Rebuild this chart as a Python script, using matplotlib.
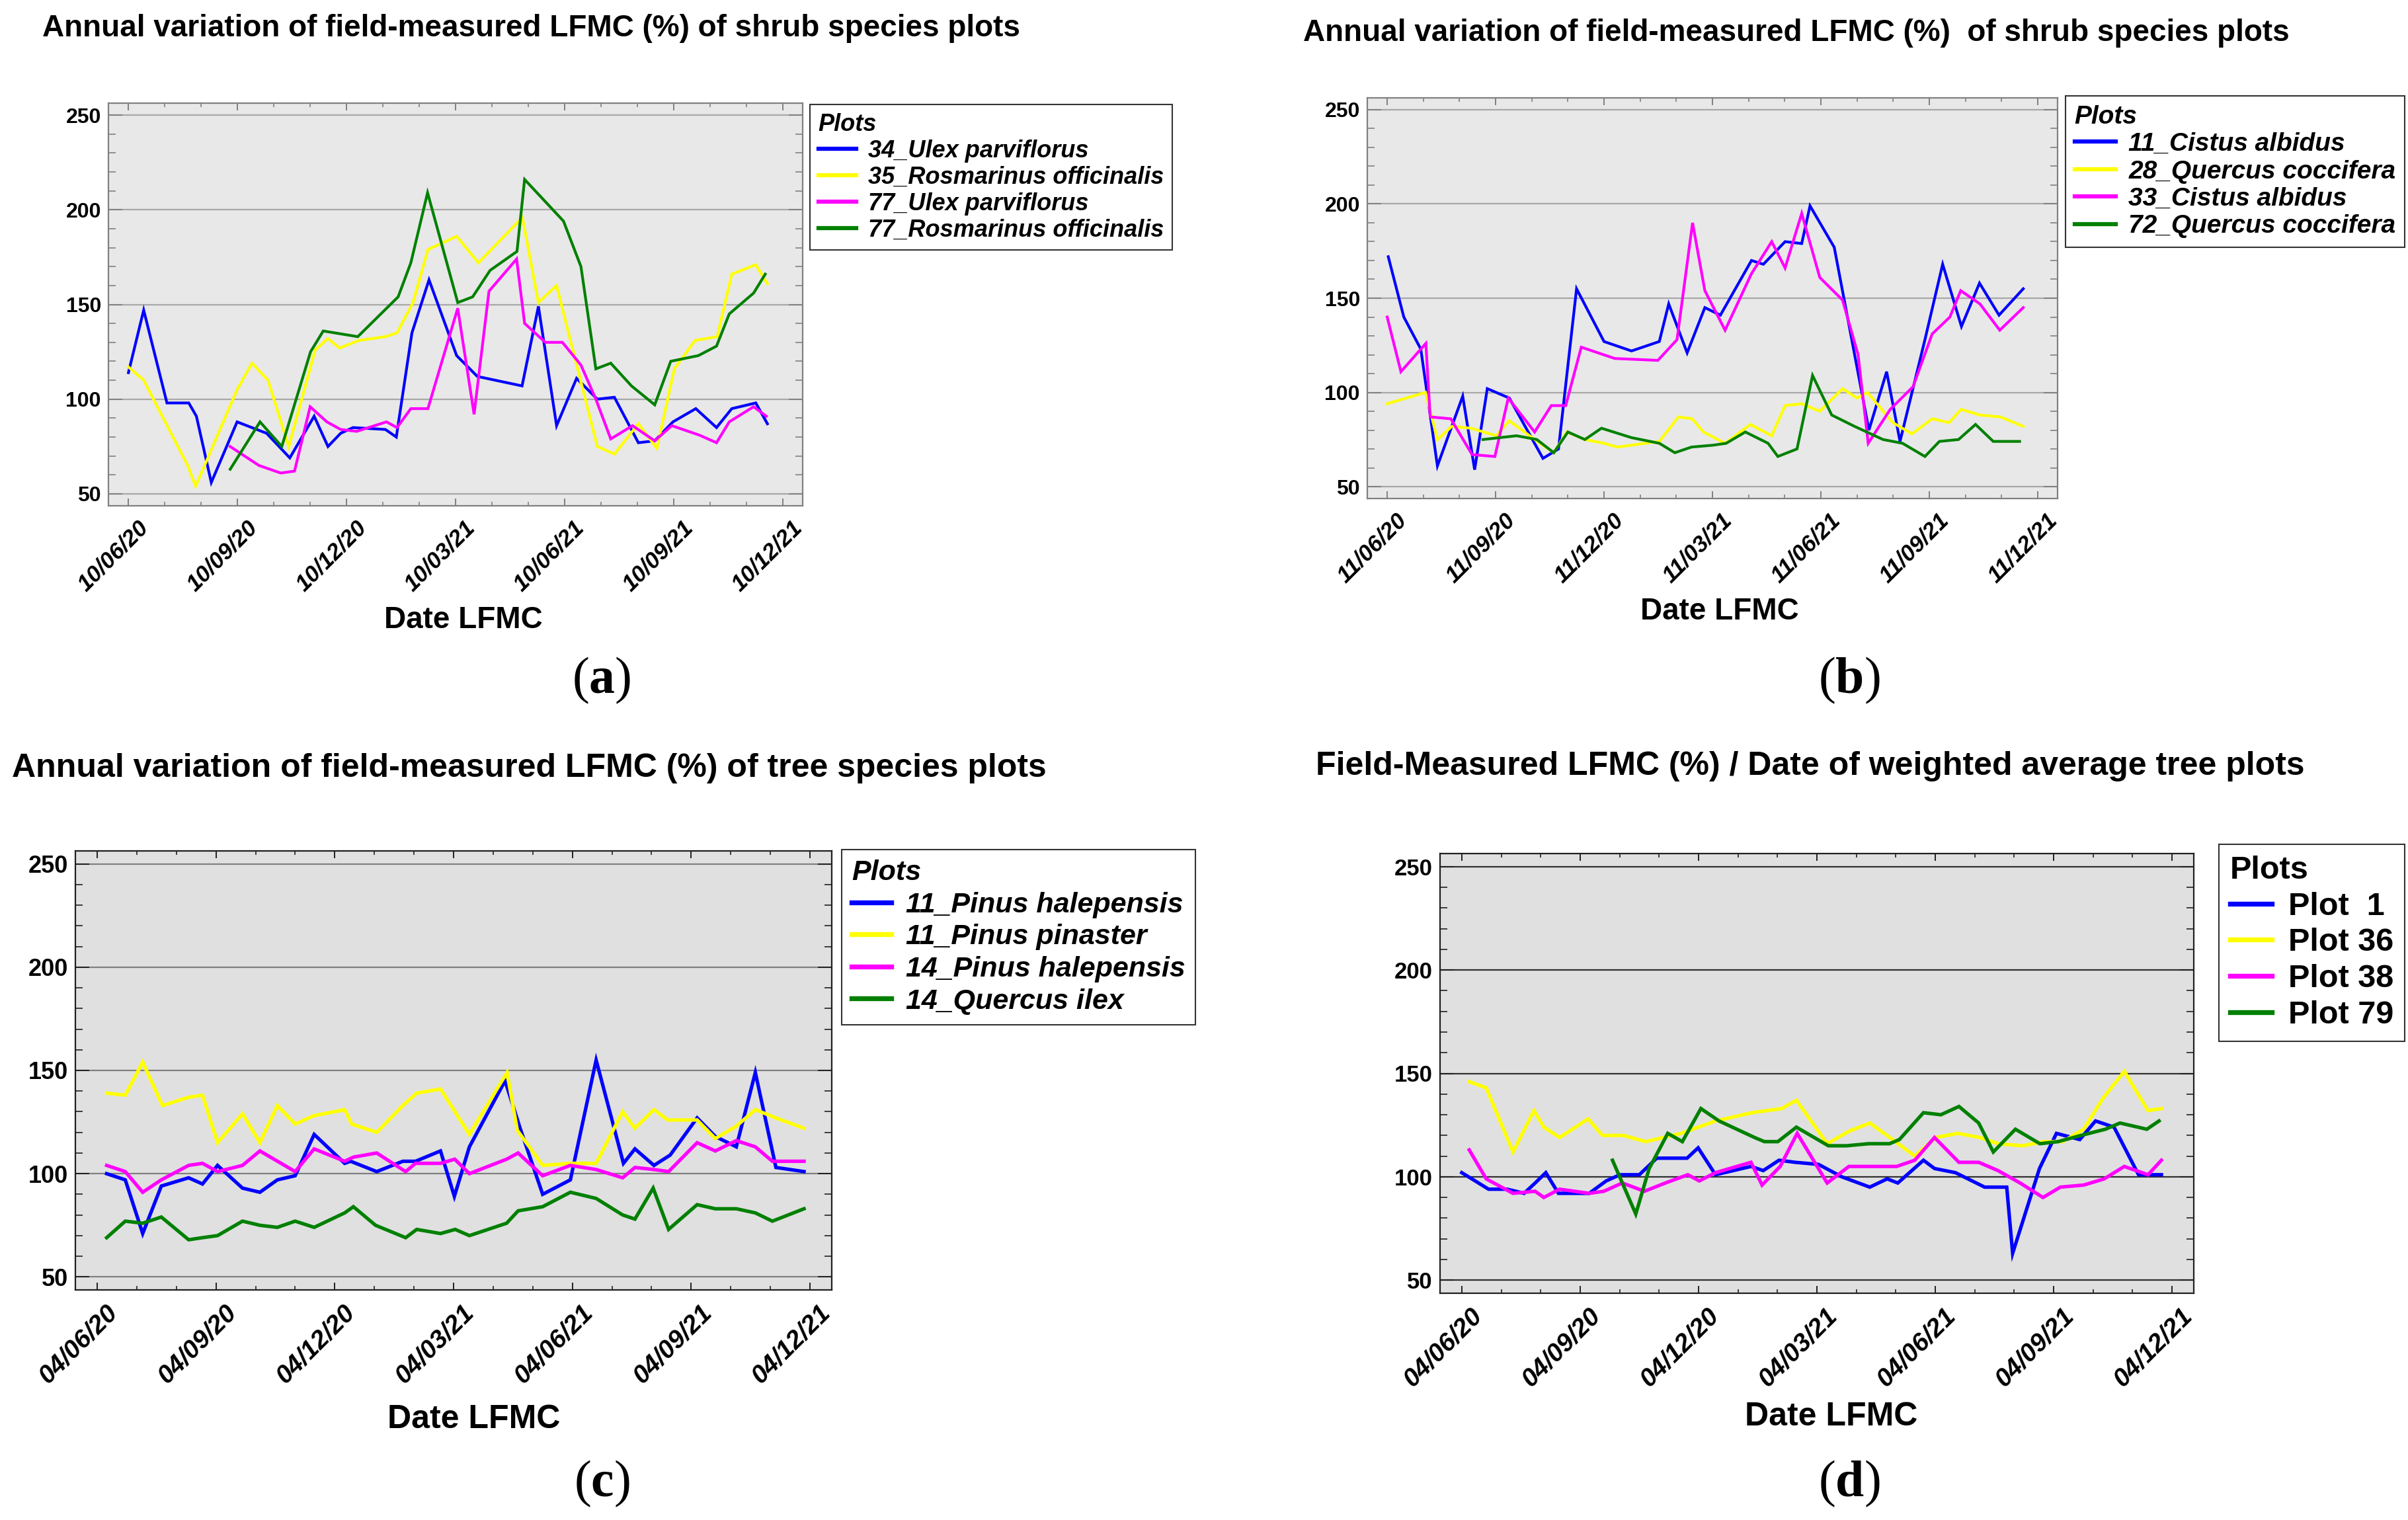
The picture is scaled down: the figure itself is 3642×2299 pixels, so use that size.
import matplotlib
matplotlib.use('Agg')
import matplotlib.pyplot as plt
from matplotlib.ticker import MultipleLocator
from matplotlib.transforms import ScaledTranslation

plt.rcParams['font.family'] = ['Liberation Sans', 'DejaVu Sans']
plt.rcParams['mathtext.fontset'] = 'custom'
plt.rcParams['mathtext.rm'] = 'Liberation Serif'
plt.rcParams['mathtext.bf'] = 'Liberation Serif:bold'

W, H = 3642, 2299

# ---------- data (x = months after the first labelled date) ----------
a_ticks = ['10/06/20', '10/09/20', '10/12/20', '10/03/21', '10/06/21', '10/09/21', '10/12/21']
a_names = ['34_Ulex parviflorus', '35_Rosmarinus officinalis', '77_Ulex parviflorus', '77_Rosmarinus officinalis']
a_blue_x = [0, 0.42, 1.06, 1.66, 1.87, 2.28, 2.99, 3.8, 4.44, 5.11, 5.49, 5.84, 6.18, 7.07, 7.37, 7.8, 8.27, 9.03,
            9.6, 10.83, 11.28, 11.78, 12.33, 12.9, 13.37, 14.03, 14.48, 14.98, 15.61, 16.18, 16.6, 17.26, 17.58]
a_blue_y = [114, 147, 98, 98, 91, 56, 88, 82, 69, 91, 75, 82, 85, 84, 80, 135, 163, 123,
            112, 107, 149, 86, 111, 100, 101, 77, 78, 88, 95, 85, 95, 98, 87]
a_yellow_x = [0, 0.42, 1.63, 1.85, 2.99, 3.4, 3.84, 4.41, 5.14, 5.49, 5.81, 6.34, 7.07, 7.39, 7.83, 8.24, 9.03,
              9.63, 10.84, 11.28, 11.78, 12.9, 13.37, 14.03, 14.54, 15.02, 15.59, 16.2, 16.6, 17.26, 17.58]
a_yellow_y = [117, 110, 65, 54, 105, 119, 110, 75, 126, 132, 127, 131, 133, 135, 151, 179, 186,
              172, 196, 151, 160, 75, 71, 87, 74, 116, 131, 133, 166, 171, 161]
a_magenta_x = [2.8, 3.59, 4.19, 4.57, 5.0, 5.46, 5.84, 6.28, 7.1, 7.39, 7.77, 8.24, 9.06, 9.51, 9.92, 10.68, 10.9,
               11.47, 11.94, 12.45, 12.86, 13.27, 13.87, 14.48, 14.95, 15.71, 16.18, 16.53, 17.2, 17.55]
a_magenta_y = [75, 65, 61, 62, 96, 88, 84, 83, 88, 85, 95, 95, 148, 92, 157, 174, 140,
               130, 130, 118, 100, 79, 86, 78, 86, 81, 77, 88, 96, 91]
a_green_x = [2.8, 3.62, 4.22, 5.01, 5.36, 6.31, 7.42, 7.77, 8.23, 9.06, 9.47, 9.95, 10.69, 10.9, 11.97, 12.45,
             12.86, 13.27, 13.84, 14.48, 14.92, 15.68, 16.18, 16.53, 17.2, 17.52]
a_green_y = [63, 88, 75, 125, 136, 133, 154, 172, 209, 151, 154, 168, 178, 216, 194, 170,
             116, 119, 107, 97, 120, 123, 128, 145, 156, 166]

b_ticks = ['11/06/20', '11/09/20', '11/12/20', '11/03/21', '11/06/21', '11/09/21', '11/12/21']
b_names = ['11_Cistus albidus', '28_Quercus coccifera', '33_Cistus albidus', '72_Quercus coccifera']
b_blue_x = [0.03, 0.46, 0.93, 1.39, 2.09, 2.42, 2.77, 3.38, 4.31, 4.74, 5.24, 6.0, 6.76, 7.53, 7.79, 8.3, 8.79,
            9.22, 10.08, 10.41, 11.01, 11.47, 11.7, 12.37, 13.33, 13.82, 14.19, 14.88, 15.37, 15.89, 16.39, 16.93, 17.6]
b_blue_y = [172, 140, 123, 61, 98, 59, 102, 97, 65, 70, 155, 127, 122, 127, 147, 121, 145,
            141, 170, 168, 180, 179, 199, 177, 80, 111, 74, 128, 168, 135, 158, 141, 155]
b_yellow_x = [0, 1.06, 1.39, 1.79, 2.32, 3.02, 3.38, 4.08, 4.61, 4.97, 5.47, 6.0, 6.37, 7.53, 8.06, 8.44, 8.75,
              9.35, 10.05, 10.64, 11.01, 11.47, 11.97, 12.6, 13.0, 13.29, 13.99, 14.52, 15.08, 15.55, 15.88, 16.4,
              16.97, 17.6]
b_yellow_y = [94, 100, 75, 82, 81, 77, 85, 75, 68, 79, 75, 73, 71, 74, 87, 86, 79,
              73, 83, 77, 93, 94, 90, 102, 97, 100, 84, 78, 86, 84, 91, 88, 87, 82]
b_magenta_x = [0, 0.38, 1.07, 1.19, 1.76, 2.35, 2.98, 3.35, 4.08, 4.54, 4.94, 5.37, 6.3, 7.49, 8.02, 8.45, 8.79,
               9.35, 10.08, 10.64, 11.01, 11.47, 11.97, 12.6, 13.03, 13.31, 13.92, 14.55, 15.08, 15.57, 15.87, 16.4,
               16.95, 17.6]
b_magenta_y = [140, 111, 126, 87, 86, 67, 66, 97, 79, 93, 93, 124, 118, 117, 128, 190, 154,
               133, 163, 180, 166, 195, 161, 149, 120, 73, 91, 103, 131, 140, 154, 147, 133, 145]
b_green_x = [2.65, 3.58, 4.14, 4.61, 5.0, 5.47, 5.93, 6.76, 7.53, 7.96, 8.42, 9.02, 9.38, 9.91, 10.54, 10.81,
             11.34, 11.77, 12.3, 12.93, 13.72, 14.26, 14.88, 15.28, 15.81, 16.28, 16.77, 17.5]
b_green_y = [75, 77, 75, 68, 79, 75, 81, 76, 73, 68, 71, 72, 73, 79, 73, 66,
             70, 109, 88, 82, 75, 73, 66, 74, 75, 83, 74, 74]

c_ticks = ['04/06/20', '04/09/20', '04/12/20', '04/03/21', '04/06/21', '04/09/21', '04/12/21']
c_names = ['11_Pinus halepensis', '11_Pinus pinaster', '14_Pinus halepensis', '14_Quercus ilex']
c_blue_x = [0.24, 0.71, 1.15, 1.62, 2.31, 2.66, 3.04, 3.67, 4.11, 4.55, 5.0, 5.48, 6.25, 6.4, 7.06, 7.72, 8.04,
            8.67, 9.02, 9.4, 10.3, 10.68, 11.25, 11.95, 12.6, 13.29, 13.58, 14.06, 14.47, 15.15, 15.61, 16.14,
            16.62, 17.14, 17.85]
c_blue_y = [100, 97, 71, 94, 98, 95, 104, 93, 91, 97, 99, 119, 105, 106, 101, 106, 106,
            111, 89, 113, 145, 122, 90, 97, 155, 105, 112, 104, 109, 127, 118, 113, 149, 103, 101]
c_yellow_x = [0.24, 0.71, 1.15, 1.65, 2.31, 2.66, 3.04, 3.67, 4.11, 4.55, 5.0, 5.46, 6.25, 6.43, 7.06, 7.72, 8.07,
              8.67, 9.4, 10.35, 10.61, 11.25, 11.95, 12.6, 13.27, 13.58, 14.06, 14.41, 15.15, 15.61, 16.14, 16.62,
              17.14, 17.85]
c_yellow_y = [139, 138, 154, 133, 137, 138, 115, 129, 115, 133, 124, 128, 131, 124, 120, 133, 139,
              141, 119, 149, 121, 104, 105, 105, 130, 122, 131, 126, 126, 117, 123, 131, 127, 122]
c_magenta_x = [0.24, 0.71, 1.15, 1.62, 2.31, 2.66, 3.04, 3.67, 4.11, 5.0, 5.48, 6.25, 6.47, 7.06, 7.79, 8.04, 8.67,
               9.03, 9.4, 10.34, 10.63, 11.25, 11.95, 12.6, 13.27, 13.58, 14.06, 14.43, 15.15, 15.61, 16.14, 16.62,
               17.05, 17.85]
c_magenta_y = [104, 101, 91, 97, 104, 105, 101, 104, 111, 101, 112, 106, 108, 110, 101, 105, 105,
               107, 100, 107, 110, 99, 104, 102, 98, 103, 102, 101, 115, 111, 116, 113, 106, 106]
c_green_x = [0.24, 0.71, 1.15, 1.62, 2.31, 2.66, 3.04, 3.67, 4.11, 4.55, 5.0, 5.48, 6.25, 6.47, 7.03, 7.79, 8.07,
             8.67, 9.04, 9.4, 10.34, 10.63, 11.25, 11.95, 12.6, 13.27, 13.58, 14.04, 14.43, 15.15, 15.61, 16.14,
             16.62, 17.05, 17.85]
c_green_y = [69, 77, 76, 79, 68, 69, 70, 77, 75, 74, 77, 74, 81, 84, 75, 69, 73,
             71, 73, 70, 76, 82, 84, 91, 88, 80, 78, 93, 73, 85, 83, 83, 81, 77, 83]

d_ticks = c_ticks
d_names = ['Plot  1', 'Plot 36', 'Plot 38', 'Plot 79']
d_blue_x = [0, 0.68, 1.15, 1.37, 1.58, 1.86, 2.13, 2.45, 3.23, 3.66, 4.01, 4.5, 4.94, 5.71, 5.99, 6.43, 7.33,
            7.64, 8.04, 8.45, 9.04, 9.63, 10.34, 10.78, 11.05, 11.7, 11.98, 12.51, 13.25, 13.81, 13.96, 14.64,
            15.07, 15.66, 16.06, 16.53, 17.15, 17.73]
d_blue_y = [102, 94, 94, 93, 92, 97, 102, 92, 92, 98, 101, 101, 109, 109, 114, 101, 105,
            103, 108, 107, 106, 100, 95, 99, 97, 108, 104, 102, 95, 95, 63, 104,
            121, 118, 127, 124, 101, 101]
d_yellow_x = [0.19, 0.62, 1.3, 1.83, 2.08, 2.48, 3.2, 3.57, 4.1, 4.66, 5.56, 6.43, 7.36, 8.11, 8.48, 9.26, 9.81,
              10.34, 10.92, 11.48, 12.01, 12.57, 13.13, 13.59, 14.21, 14.74, 15.23, 15.76, 16.25, 16.79, 17.39, 17.73]
d_yellow_y = [146, 143, 112, 132, 124, 119, 128, 120, 120, 117, 121, 127, 131, 133, 137, 116, 122,
              126, 118, 110, 119, 121, 119, 116, 115, 117, 117, 123, 138, 151, 132, 133]
d_magenta_x = [0.19, 0.62, 1.3, 1.86, 2.08, 2.48, 3.23, 3.6, 4.07, 4.63, 5.16, 5.73, 6.02, 6.43, 7.33, 7.61, 8.07,
               8.5, 9.26, 9.81, 11.02, 11.48, 11.98, 12.6, 13.1, 13.59, 14.15, 14.73, 15.17, 15.76, 16.28, 16.79,
               17.39, 17.73]
d_magenta_y = [113, 99, 92, 93, 90, 94, 92, 93, 97, 93, 97, 101, 98, 102, 107, 96, 105,
               121, 97, 105, 105, 108, 119, 107, 107, 103, 97, 90, 95, 96, 99, 105, 101, 108]
d_green_x = [3.82, 4.41, 4.75, 5.22, 5.59, 6.06, 6.52, 7.42, 7.67, 8.01, 8.48, 9.29, 9.75, 10.31, 10.84, 11.09,
             11.7, 12.14, 12.6, 13.1, 13.47, 14.03, 14.65, 15.11, 15.69, 16.31, 16.68, 17.36, 17.67]
d_green_y = [108, 82, 104, 121, 117, 133, 127, 119, 117, 117, 124, 115, 115, 116, 116, 118,
             131, 130, 134, 126, 112, 123, 116, 117, 120, 123, 126, 123, 127]

colors = ['#0000ff', '#ffff00', '#ff00ff', '#008000']


def rect(x0, y0, x1, y1):
    return [x0 / W, 1 - y1 / H, (x1 - x0) / W, (y1 - y0) / H]


fig = plt.figure(figsize=(W / 100, H / 100), dpi=100)


def panel(box, series, names, ticks, st):
    ax = fig.add_axes(rect(*box))
    ax.set_facecolor(st['bg'])
    for (xs, ys), c in zip(series, colors):
        ax.plot(xs, ys, color=c, lw=st['lw'], solid_joinstyle='miter')
    ax.set_xlim(-0.55, 18.55)
    ax.set_ylim(43.7, 256.3)
    ax.set_yticks([50, 100, 150, 200, 250])
    ax.yaxis.set_minor_locator(MultipleLocator(10))
    ax.set_xticks(range(0, 19, 3))
    ax.xaxis.set_minor_locator(MultipleLocator(1))
    ax.set_yticklabels(['50', '100', '150', '200', '250'], fontsize=st['ysize'], fontweight='bold')
    ax.set_xticklabels(ticks, fontsize=st['xsize'], fontweight='bold', fontstyle='italic',
                       rotation=45, ha='right', rotation_mode='anchor')
    ax.yaxis.grid(True, which='major', color=st['grid'], lw=1.6)
    ax.set_axisbelow(True)
    for s in ax.spines.values():
        s.set_color(st['spine'])
        s.set_linewidth(1.6)
    ax.tick_params(axis='y', which='major', direction='in', length=15, width=1.4, right=True,
                   color=st['spine'], pad=8)
    ax.tick_params(axis='y', which='minor', direction='in', length=8, width=1.2, right=True, color=st['spine'])
    ax.tick_params(axis='x', which='major', direction='in', length=8, width=1.4, top=True,
                   color=st['spine'], pad=12)
    ax.tick_params(axis='x', which='minor', direction='in', length=4, width=1.2, top=True, color=st['spine'])
    # shift the rotated date labels so their ends sit right of the ticks
    off = ScaledTranslation(0.13, 0, fig.dpi_scale_trans)
    for lbl in ax.get_xticklabels():
        lbl.set_transform(lbl.get_transform() + off)

    lx, ly = st['leg']
    leg = ax.legend(names, loc='upper left', bbox_to_anchor=(lx / W, 1 - ly / H), bbox_transform=fig.transFigure,
                    title='Plots', alignment='left', frameon=True, fancybox=False, borderaxespad=0,
                    borderpad=0.35, handlelength=st['hl'], handletextpad=0.5, labelspacing=st['ls'],
                    prop={'family': 'Liberation Sans', 'weight': 'bold', 'style': st['lstyle'],
                          'size': st['lsize']},
                    title_fontproperties={'family': 'Liberation Sans', 'weight': 'bold',
                                          'style': st['lstyle'], 'size': st['lsize']})
    leg.get_frame().set_edgecolor('black')
    leg.get_frame().set_linewidth(1.5)
    for h in leg.get_lines():
        h.set_linewidth(st['lw'] + 1.5)
    return ax


style_ab = dict(bg='#e8e8e8', grid='#a8a8a8', spine='#808080', lw=3.0, ysize=23, xsize=25,
                lsize=26, lstyle='italic', hl=1.6, ls=0.14)
style_c = dict(bg='#e0e0e0', grid='#808080', spine='#202020', lw=3.8, ysize=26, xsize=28,
               lsize=31, lstyle='italic', hl=1.4, ls=0.2)
style_d = dict(bg='#e0e0e0', grid='#303030', spine='#202020', lw=3.8, ysize=25, xsize=28,
               lsize=35, lstyle='normal', hl=1.3, ls=0.2)

panel((164, 156, 1214, 765),
      [(a_blue_x, a_blue_y), (a_yellow_x, a_yellow_y), (a_magenta_x, a_magenta_y), (a_green_x, a_green_y)],
      a_names, a_ticks, dict(style_ab, leg=(1225, 158)))
panel((2068, 148, 3112, 754),
      [(b_blue_x, b_blue_y), (b_yellow_x, b_yellow_y), (b_magenta_x, b_magenta_y), (b_green_x, b_green_y)],
      b_names, b_ticks, dict(style_ab, leg=(3124, 145), lsize=28))
panel((114, 1287, 1258, 1951),
      [(c_blue_x, c_blue_y), (c_yellow_x, c_yellow_y), (c_magenta_x, c_magenta_y), (c_green_x, c_green_y)],
      c_names, c_ticks, dict(style_c, leg=(1273, 1285)))
panel((2178, 1291, 3318, 1956),
      [(d_blue_x, d_blue_y), (d_yellow_x, d_yellow_y), (d_magenta_x, d_magenta_y), (d_green_x, d_green_y)],
      d_names, d_ticks, dict(style_d, leg=(3356, 1277)))

titles = [
    (64, 55, 33, 'Annual variation of field-measured LFMC (%) of shrub species plots'),
    (1971, 62, 33, 'Annual variation of field-measured LFMC (%)  of shrub species plots'),
    (18, 1175, 36, 'Annual variation of field-measured LFMC (%) of tree species plots'),
    (1990, 1172, 36, 'Field-Measured LFMC (%) / Date of weighted average tree plots'),
]
for x, y, size, t in titles:
    fig.text(x / W, 1 - y / H, t, fontsize=size, fontweight='bold', ha='left', va='baseline')

for x, y, size in [(701, 950, 33), (2601, 937, 33), (717, 2160, 36), (2770, 2156, 36)]:
    fig.text(x / W, 1 - y / H, 'Date LFMC', fontsize=size, fontweight='bold', ha='center', va='baseline')

for x, y, letter in [(910, 1029, 'a'), (2797, 1029, 'b'), (910, 2244, 'c'), (2797, 2244, 'd')]:
    fig.text(x / W, 1 - y / H, r'($\mathbf{%s}$)' % letter, fontsize=56, family='Liberation Serif',
             ha='center', va='center')

fig.savefig('out.png', dpi=100)
